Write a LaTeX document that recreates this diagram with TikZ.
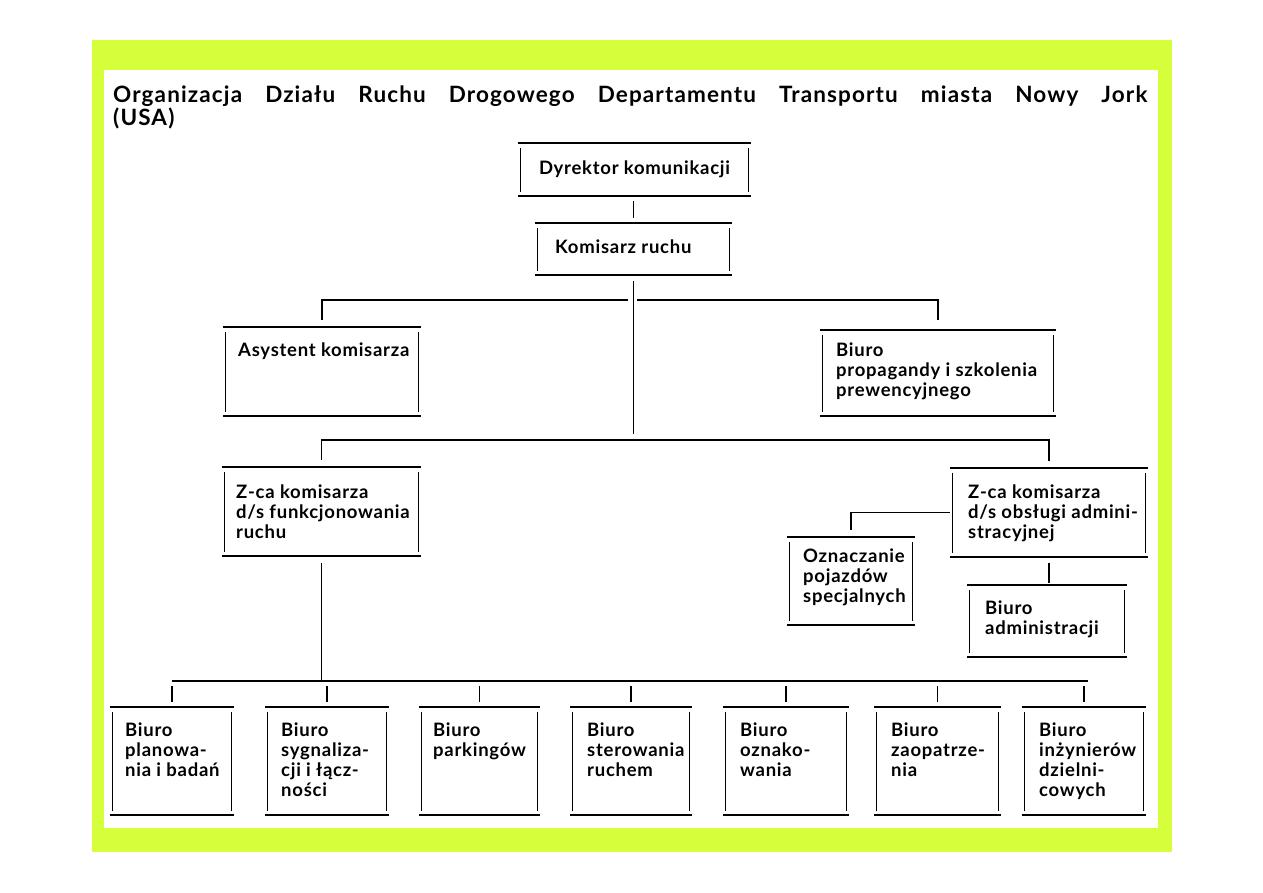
\documentclass[tikz,border=0pt]{standalone}
\usepackage{fontspec}
\setmainfont{Lato}
\usetikzlibrary{fit}
\definecolor{framegreen}{RGB}{212,255,58}
\newcommand\boxedges[1]{%
  \draw[hl] ([xshift=-3pt]#1.north west) -- ([xshift=3pt]#1.north east);
  \draw[hl] ([xshift=-3pt]#1.south west) -- ([xshift=3pt]#1.south east);
  \draw[vl] ([yshift=-5pt]#1.north west) -- ([yshift=4pt]#1.south west);
  \draw[vl] ([yshift=-5pt]#1.north east) -- ([yshift=4pt]#1.south east);}
\begin{document}
\begin{tikzpicture}[x=1pt,y=-1pt,
  ln/.style={line width=1.6pt},
  hl/.style={line width=1.9pt},
  vl/.style={line width=1.3pt},
  obox/.style={inner sep=0pt, draw=none},
  txt/.style={inner sep=0pt, anchor=north west, align=left,
    font=\bfseries\fontsize{18.5}{20}\selectfont\addfontfeatures{LetterSpace=4}},
  ttl/.style={inner sep=0pt, anchor=base west,
    font=\bfseries\fontsize{22.5}{26}\selectfont\addfontfeatures{LetterSpace=5}}]
% background and frame
\fill[white] (0,0) rectangle (1263,893);
\fill[framegreen] (92,40) rectangle (1172,852);
\fill[white] (104,70) rectangle (1158,828);
% title
\node[ttl] (title) at (113,103) {\makebox[1034pt][s]{Organizacja Działu Ruchu Drogowego Departamentu Transportu miasta Nowy Jork}};
\node[ttl] (usa) at (113,126) {(USA)};
% boxes
\node[obox, fit={(521,143) (748,196)}] (dyr) {};
\node[obox, fit={(538,223) (729,275)}] (kom) {};
\node[obox, fit={(226,327) (418,416)}] (ast) {};
\node[obox, fit={(823,330) (1053,416)}] (prop) {};
\node[obox, fit={(225,467) (418,556)}] (zf) {};
\node[obox, fit={(953,468) (1145,557)}] (zo) {};
\node[obox, fit={(790,537) (912,625)}] (ozn) {};
\node[obox, fit={(970,585) (1124,657)}] (adm) {};
\node[obox, fit={(113,707) (231,815)}] (b1) {};
\node[obox, fit={(268,707) (386,815)}] (b2) {};
\node[obox, fit={(422,707) (537,815)}] (b3) {};
\node[obox, fit={(573,707) (689,815)}] (b4) {};
\node[obox, fit={(726,707) (846,815)}] (b5) {};
\node[obox, fit={(877,707) (998,815)}] (b6) {};
\node[obox, fit={(1025,707) (1143,815)}] (b7) {};
\foreach \n in {dyr,kom,ast,prop,zf,zo,ozn,adm,b1,b2,b3,b4,b5,b6,b7}{\boxedges{\n}}
% texts
\node[txt, anchor=center] (tdyr) at (dyr.center) {Dyrektor komunikacji};
\node[txt, anchor=west] (tkom) at (555,247) {Komisarz ruchu};
\node[txt] (tast) at (238,343) {Asystent komisarza};
\node[txt] (tprop) at (836,343) {Biuro\\propagandy i szkolenia\\prewencyjnego};
\node[txt] (tzf) at (236,485) {Z-ca komisarza\\d/s funkcjonowania\\ruchu};
\node[txt] (tzo) at (968,485) {Z-ca komisarza\\d/s obsługi admini-\\stracyjnej};
\node[txt] (tozn) at (803,549) {Oznaczanie\\pojazdów\\specjalnych};
\node[txt] (tadm) at (985,601) {Biuro\\administracji};
\node[txt] (tb1) at (125,723) {Biuro\\planowa-\\nia i badań};
\node[txt] (tb2) at (281,723) {Biuro\\sygnaliza-\\cji i łącz-\\ności};
\node[txt] (tb3) at (433,723) {Biuro\\parkingów};
\node[txt] (tb4) at (587,723) {Biuro\\sterowania\\ruchem};
\node[txt] (tb5) at (740,723) {Biuro\\oznako-\\wania};
\node[txt] (tb6) at (891,723) {Biuro\\zaopatrze-\\nia};
\node[txt] (tb7) at (1039,723) {Biuro\\inżynierów\\dzielni-\\cowych};
% bus coordinates
\coordinate (bus1) at (632,300);
\coordinate (bus2) at (632,440);
\coordinate (bus3) at (632,681);
% connectors
\draw[ln] ([yshift=-5pt]kom.north |- dyr.south) -- ([yshift=5pt]kom.north);
\draw[ln] ([yshift=-6pt]kom.south) -- ([yshift=6pt]kom.south |- bus2);
\draw[ln] ([yshift=7pt]ast.north) -- (ast.north |- bus1) -- ([xshift=-4pt]bus1);
\draw[ln] ([yshift=10pt]prop.north) -- (prop.north |- bus1) -- ([xshift=5pt]bus1);
\draw[ln] ([yshift=7pt]zf.north) -- (zf.north |- bus2) -- (zo.north |- bus2) -- ([yshift=7pt]zo.north);
\draw[ln] ([xshift=-3pt]zo.west) -- (ozn.north |- zo.west) -- ([yshift=7pt]ozn.north);
\draw[ln] ([yshift=-6pt]zo.south) -- ([yshift=2pt]zo.south |- adm.north);
\draw[ln] ([yshift=-7pt]zf.south) -- (zf.south |- bus3);
\draw[ln] (b1.north |- bus3) -- ([xshift=4pt]b7.north |- bus3);
\foreach \b in {b1,b2,b3,b4,b5,b6,b7}{
  \draw[ln] ([yshift=-5pt]\b.north |- bus3) -- ([yshift=5pt]\b.north);}
\end{tikzpicture}
\end{document}
